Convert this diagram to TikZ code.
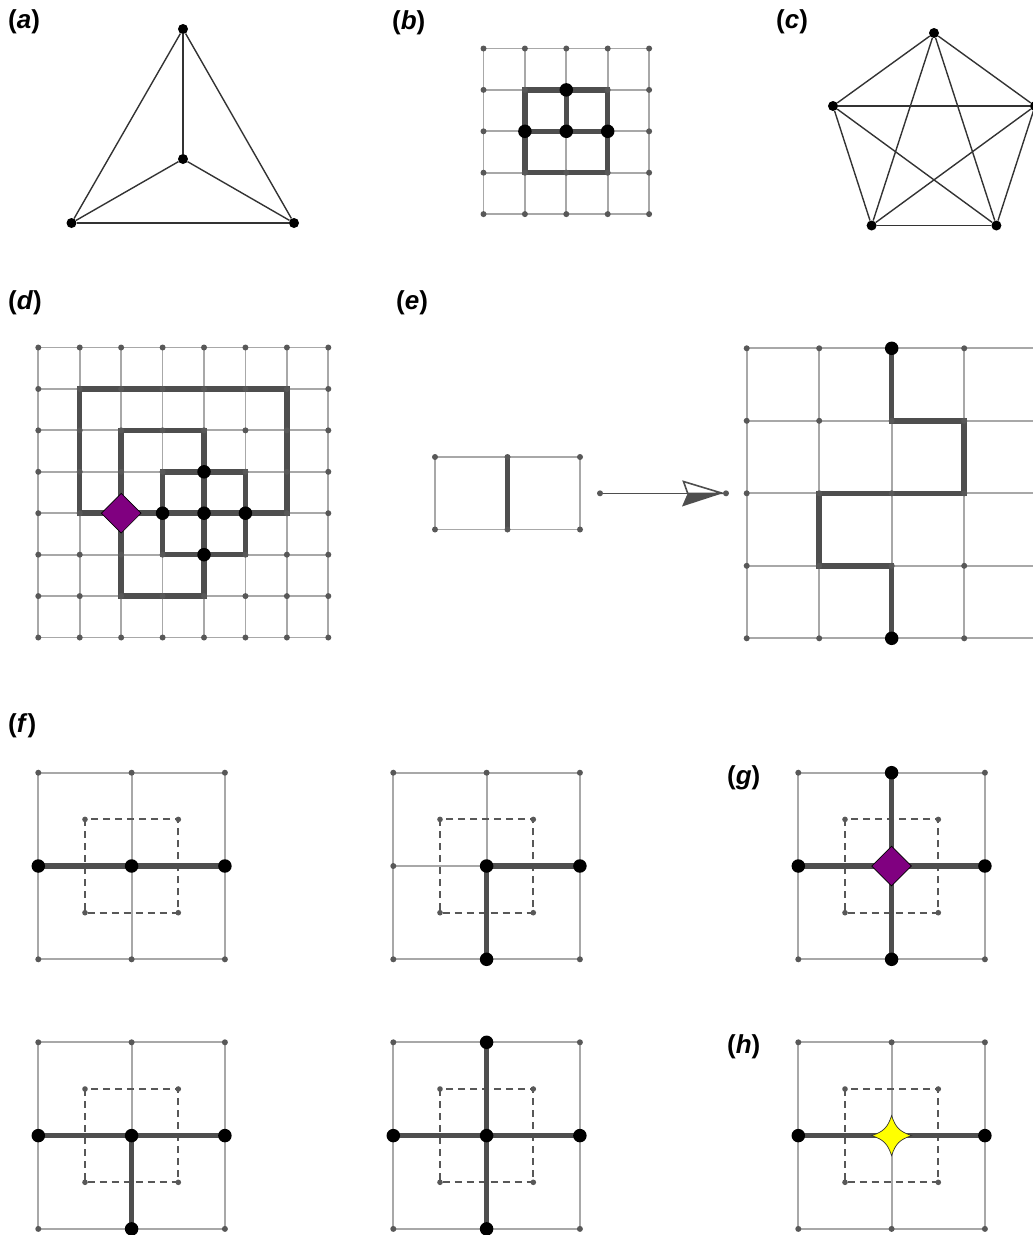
\documentclass[tikz,border=0pt]{standalone}
\usepackage{fontspec}
\setmainfont{Liberation Sans}
\usetikzlibrary{shapes.geometric}
\definecolor{gline}{HTML}{A8A8A8}
\definecolor{gdotc}{HTML}{585858}
\definecolor{thickc}{HTML}{4E4E4E}
\definecolor{edgec}{HTML}{333333}
\definecolor{purp}{HTML}{800080}
\definecolor{yel}{HTML}{FFFF00}
\tikzset{
  gridl/.style={draw=gline, line width=1.8pt},
  thickp/.style={draw=thickc, line width=5.5pt},
  bigdot/.style={circle, fill=black, inner sep=0pt, minimum size=13.5pt},
  vtx/.style={circle, fill=black, inner sep=0pt, minimum size=10pt},
  gedge/.style={draw=edgec, line width=1.4pt},
  lab/.style={anchor=west, inner sep=0pt, font=\fontsize{26}{30}\selectfont\bfseries},
  dashp/.style={draw=gdotc, line width=2pt, dash pattern=on 7pt off 5pt},
  diam/.style={diamond, fill=purp, draw=black, line width=0.7pt, inner sep=0pt, minimum size=40pt},
  starp/.style={fill=yel, draw=edgec, line width=0.7pt},
}
% grid lines: #1 ox, #2 oy, #3 cols, #4 rows, #5 spacing
\newcommand\lgridlines[5]{%
  \foreach \i in {0,...,#3} \draw[gridl] ({#1+\i*#5},#2) -- ({#1+\i*#5},{#2+#4*#5});
  \foreach \j in {0,...,#4} \draw[gridl] (#1,{#2+\j*#5}) -- ({#1+#3*#5},{#2+\j*#5});
}
\newcommand\lgriddots[5]{%
  \foreach \i in {0,...,#3} \foreach \j in {0,...,#4}
    \fill[gdotc] ({#1+\i*#5},{#2+\j*#5}) circle (3pt);
}
% small f-panel: #1 ox, #2 oy
\newcommand\fpanelbase[2]{%
  \lgridlines{#1}{#2}{2}{2}{93.3}
  \draw[dashp] ({#1+46.7},{#2+46.7}) rectangle ({#1+140},{#2+140});
}
\newcommand\fpaneldots[2]{%
  \lgriddots{#1}{#2}{2}{2}{93.3}
  \foreach \p in {{#1+46.7},{#1+140}} \foreach \q in {{#2+46.7},{#2+140}}
    \fill[gdotc] (\p,\q) circle (2.8pt);
}
\begin{document}
\begin{tikzpicture}[x=1pt,y=-1pt]
\useasboundingbox (0,0) rectangle (1033,1235);
\clip (0,0) rectangle (1033,1235);

% ---------- labels ----------
\node[lab] (la) at (8,22) {(\textit{a})};
\node[lab] (lb) at (392,23) {(\textit{b})};
\node[lab] (lc) at (776,22) {(\textit{c})};
\node[lab] (ld) at (8,303) {(\textit{d})};
\node[lab] (le) at (396,303) {(\textit{e})};
\node[lab] (lf) at (8,726) {(\textit{f})};
\node[lab] (lg) at (727,778) {(\textit{g})};
\node[lab] (lh) at (727,1047) {(\textit{h})};

% ---------- (a) K4 ----------
\node[vtx] (a1) at (183,29) {};
\node[vtx] (a2) at (183,159) {};
\node[vtx] (a3) at (71.5,223) {};
\node[vtx] (a4) at (294,223) {};
\draw[gedge] (a1) -- (a2);
\draw[gedge] (a1) -- (a3);
\draw[gedge] (a1) -- (a4);
\draw[gedge] (a3) -- (a4);
\draw[gedge] (a2) -- (a3);
\draw[gedge] (a2) -- (a4);

% ---------- (c) K5 ----------
\node[vtx] (c1) at (934,33) {};
\node[vtx] (c2) at (833,106) {};
\node[vtx] (c3) at (1035,106) {};
\node[vtx] (c4) at (871.6,225.5) {};
\node[vtx] (c5) at (996.4,225.5) {};
\foreach \u/\v in {c1/c2,c1/c3,c1/c4,c1/c5,c2/c3,c2/c4,c2/c5,c3/c4,c3/c5,c4/c5}
  \draw[gedge] (\u) -- (\v);

% ---------- (b) ----------
\lgridlines{483.5}{48.5}{4}{4}{41.4}
\draw[thickp] (524.9,89.9) rectangle (607.7,172.7);
\draw[thickp] (566.3,89.9) -- (566.3,131.3);
\draw[thickp] (524.9,131.3) -- (607.7,131.3);
\lgriddots{483.5}{48.5}{4}{4}{41.4}
\node[bigdot] (b1) at (566.3,89.9) {};
\node[bigdot] (b2) at (524.9,131.3) {};
\node[bigdot] (b3) at (566.3,131.3) {};
\node[bigdot] (b4) at (607.7,131.3) {};

% ---------- (d) ----------
\begin{scope}[shift={(38.3,347.5)}, x=41.43pt, y=-41.43pt]
  \foreach \i in {0,...,7} \draw[gridl] (\i,0) -- (\i,7);
  \foreach \j in {0,...,7} \draw[gridl] (0,\j) -- (7,\j);
  \draw[thickp] (1,1) -- (6,1) -- (6,4) -- (1,4) -- cycle;
  \draw[thickp] (2,2) -- (4,2) -- (4,6) -- (2,6) -- cycle;
  \draw[thickp] (3,3) -- (5,3) -- (5,5) -- (3,5) -- cycle;
  \foreach \i in {0,...,7} \foreach \j in {0,...,7} \fill[gdotc] (\i,\j) circle (3pt);
  \node[bigdot] (d1) at (4,3) {};
  \node[bigdot] (d2) at (3,4) {};
  \node[bigdot] (d3) at (4,4) {};
  \node[bigdot] (d4) at (5,4) {};
  \node[bigdot] (d5) at (4,5) {};
  \node[diam] (d6) at (2,4) {};
\end{scope}

% ---------- (e) left ----------
\lgridlines{435}{457}{2}{1}{72.5}
\draw[thickp] (507.5,457) -- (507.5,529.5);
\lgriddots{435}{457}{2}{1}{72.5}

% ---------- (e) arrow ----------
\coordinate (ea) at (600,493.3);
\coordinate (eb) at (690,493.3);
\coordinate (ec) at (726,493.3);
\draw[draw=thickc, line width=1.6pt] (ea) -- (eb);
\fill[thickc] (687.7,493.3) -- (722.5,493.3) -- (682,506.5) -- cycle;
\draw[draw=thickc, fill=white, line width=1.6pt, line join=miter] (683.5,481.5) -- (722.5,493.3) -- (687.7,493.3) -- cycle;
\fill[gdotc] (ea) circle (3pt);
\fill[gdotc] (ec) circle (3pt);

% ---------- (e) right ----------
\lgridlines{746.7}{348.3}{4}{4}{72.5}
\draw[thickp] (891.7,348.3) -- (891.7,420.8) -- (964.2,420.8) -- (964.2,493.3)
   -- (819.2,493.3) -- (819.2,565.8) -- (891.7,565.8) -- (891.7,638.3);
\lgriddots{746.7}{348.3}{4}{4}{72.5}
\node[bigdot] (e1) at (891.7,348.3) {};
\node[bigdot] (e2) at (891.7,638.3) {};

% ---------- (f) 1 ----------
\fpanelbase{38.3}{772.7}
\draw[thickp] (38.3,866) -- (225,866);
\fpaneldots{38.3}{772.7}
\node[bigdot] (f11) at (38.3,866) {};
\node[bigdot] (f12) at (131.6,866) {};
\node[bigdot] (f13) at (224.9,866) {};

% ---------- (f) 2 ----------
\fpanelbase{393.3}{772.7}
\draw[thickp] (579.9,866) -- (486.6,866) -- (486.6,959.3);
\fpaneldots{393.3}{772.7}
\node[bigdot] (f21) at (486.6,866) {};
\node[bigdot] (f22) at (579.9,866) {};
\node[bigdot] (f23) at (486.6,959.3) {};

% ---------- (g) ----------
\fpanelbase{798.3}{772.7}
\draw[thickp] (891.6,772.7) -- (891.6,959.3);
\draw[thickp] (798.3,866) -- (984.9,866);
\fpaneldots{798.3}{772.7}
\node[bigdot] (g1) at (891.6,772.7) {};
\node[bigdot] (g2) at (798.3,866) {};
\node[bigdot] (g3) at (984.9,866) {};
\node[bigdot] (g4) at (891.6,959.3) {};
\node[diam] (g5) at (891.6,866) {};

% ---------- (f) 3 ----------
\fpanelbase{38.3}{1042.3}
\draw[thickp] (38.3,1135.6) -- (224.9,1135.6);
\draw[thickp] (131.6,1135.6) -- (131.6,1228.9);
\fpaneldots{38.3}{1042.3}
\node[bigdot] (f31) at (38.3,1135.6) {};
\node[bigdot] (f32) at (131.6,1135.6) {};
\node[bigdot] (f33) at (224.9,1135.6) {};
\node[bigdot] (f34) at (131.6,1228.9) {};

% ---------- (f) 4 ----------
\fpanelbase{393.3}{1042.3}
\draw[thickp] (393.3,1135.6) -- (579.9,1135.6);
\draw[thickp] (486.6,1042.3) -- (486.6,1228.9);
\fpaneldots{393.3}{1042.3}
\node[bigdot] (f41) at (393.3,1135.6) {};
\node[bigdot] (f42) at (486.6,1135.6) {};
\node[bigdot] (f43) at (579.9,1135.6) {};
\node[bigdot] (f44) at (486.6,1042.3) {};
\node[bigdot] (f45) at (486.6,1228.9) {};

% ---------- (h) ----------
\fpanelbase{798.3}{1042.3}
\draw[thickp] (798.3,1135.6) -- (984.9,1135.6);
\fpaneldots{798.3}{1042.3}
\node[bigdot] (h1) at (798.3,1135.6) {};
\node[bigdot] (h2) at (984.9,1135.6) {};
\begin{scope}[shift={(891.6,1135.6)}]
  \path[starp] (0,-20) .. controls (4,-8) and (8,-4) .. (20,0)
    .. controls (8,4) and (4,8) .. (0,20)
    .. controls (-4,8) and (-8,4) .. (-20,0)
    .. controls (-8,-4) and (-4,-8) .. (0,-20) -- cycle;
\end{scope}
\end{tikzpicture}
\end{document}
